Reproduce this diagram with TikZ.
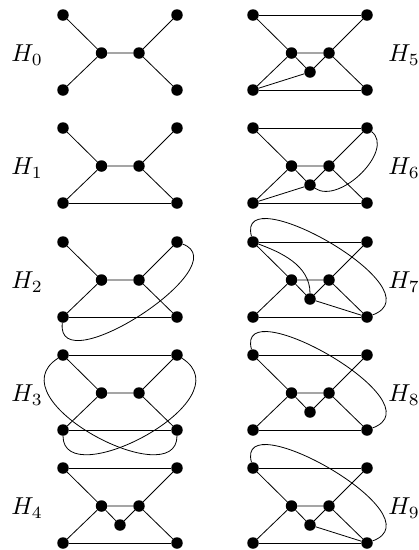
\documentclass[tikz,border=0pt]{standalone}
\newcommand\gverts[1]{%
  \node[v] (#1a) at (0,0) {};
  \node[v] (#1b) at (114,0) {};
  \node[v] (#1c) at (38.5,38) {};
  \node[v] (#1d) at (76,38) {};
  \node[v] (#1e) at (0,75) {};
  \node[v] (#1f) at (114,75) {};
  \draw[e] (#1a) -- (#1c) -- (#1d) -- (#1b);
  \draw[e] (#1e) -- (#1c);
  \draw[e] (#1d) -- (#1f);
}
\newcommand\gx[1]{%
  \node[v] (#1x) at (57,57) {};
  \draw[e] (#1c) -- (#1x) -- (#1d);
}
\begin{document}
\begin{tikzpicture}[x=1pt,y=-1pt,
  v/.style={circle,fill=black,inner sep=0pt,minimum size=11.5pt},
  e/.style={line width=0.8pt},
  lab/.style={anchor=base west,inner sep=0pt,scale=2.45}]
\useasboundingbox (0,0) rectangle (419,550);
% ---------- left column ----------
\begin{scope}[shift={(63,15)}]
  \gverts{p}
  \node[lab] (lp) at (-52,46.5) {$H_0$};
\end{scope}
\begin{scope}[shift={(63,128)}]
  \gverts{q}
  \draw[e] (qe) -- (qf);
  \node[lab] (lq) at (-52,46.5) {$H_1$};
\end{scope}
\begin{scope}[shift={(63,242)}]
  \gverts{r}
  \draw[e] (re) -- (rf);
  \draw[e] (rb) .. controls (177,23) and (-8,143) .. (re);
  \node[lab] (lr) at (-52,46.5) {$H_2$};
\end{scope}
\begin{scope}[shift={(63,355)}]
  \gverts{s}
  \draw[e] (se) -- (sf);
  \draw[e] (sa) -- (sb);
  \draw[e] (sa) .. controls (-70,45) and (114,140) .. (sf);
  \draw[e] (sb) .. controls (184,45) and (0,140) .. (se);
  \node[lab] (ls) at (-52,46.5) {$H_3$};
\end{scope}
\begin{scope}[shift={(63,468)}]
  \gverts{t}
  \gx{t}
  \draw[e] (te) -- (tf);
  \draw[e] (ta) -- (tb);
  \node[lab] (lt) at (-52,46.5) {$H_4$};
\end{scope}
% ---------- right column ----------
\begin{scope}[shift={(253,15)}]
  \gverts{u}
  \gx{u}
  \draw[e] (ue) -- (uf);
  \draw[e] (ua) -- (ub);
  \draw[e] (ue) -- (ux);
  \node[lab] (lu) at (135,46.5) {$H_5$};
\end{scope}
\begin{scope}[shift={(253,128)}]
  \gverts{w}
  \gx{w}
  \draw[e] (we) -- (wf);
  \draw[e] (wa) -- (wb);
  \draw[e] (we) -- (wx);
  \draw[e] (wb) .. controls (142,22) and (87,77) .. (wx);
  \node[lab] (lw) at (135,46.5) {$H_6$};
\end{scope}
\begin{scope}[shift={(253,242)}]
  \gverts{y}
  \gx{y}
  \draw[e] (ye) -- (yf);
  \draw[e] (ya) -- (yb);
  \draw[e] (yx) -- (yf);
  \draw[e] (ya) .. controls (27,10) and (57,23) .. (yx);
  \draw[e] (ya) .. controls (-18,-67) and (187,48) .. (yf);
  \node[lab] (ly) at (135,46.5) {$H_7$};
\end{scope}
\begin{scope}[shift={(253,355)}]
  \gverts{z}
  \gx{z}
  \draw[e] (ze) -- (zf);
  \draw[e] (za) -- (zb);
  \draw[e] (za) .. controls (-18,-67) and (187,48) .. (zf);
  \node[lab] (lz) at (135,46.5) {$H_8$};
\end{scope}
\begin{scope}[shift={(253,468)}]
  \gverts{k}
  \gx{k}
  \draw[e] (ke) -- (kf);
  \draw[e] (ka) -- (kb);
  \draw[e] (kx) -- (kf);
  \draw[e] (ka) .. controls (-18,-67) and (187,48) .. (kf);
  \node[lab] (lk) at (135,46.5) {$H_9$};
\end{scope}
\end{tikzpicture}
\end{document}
